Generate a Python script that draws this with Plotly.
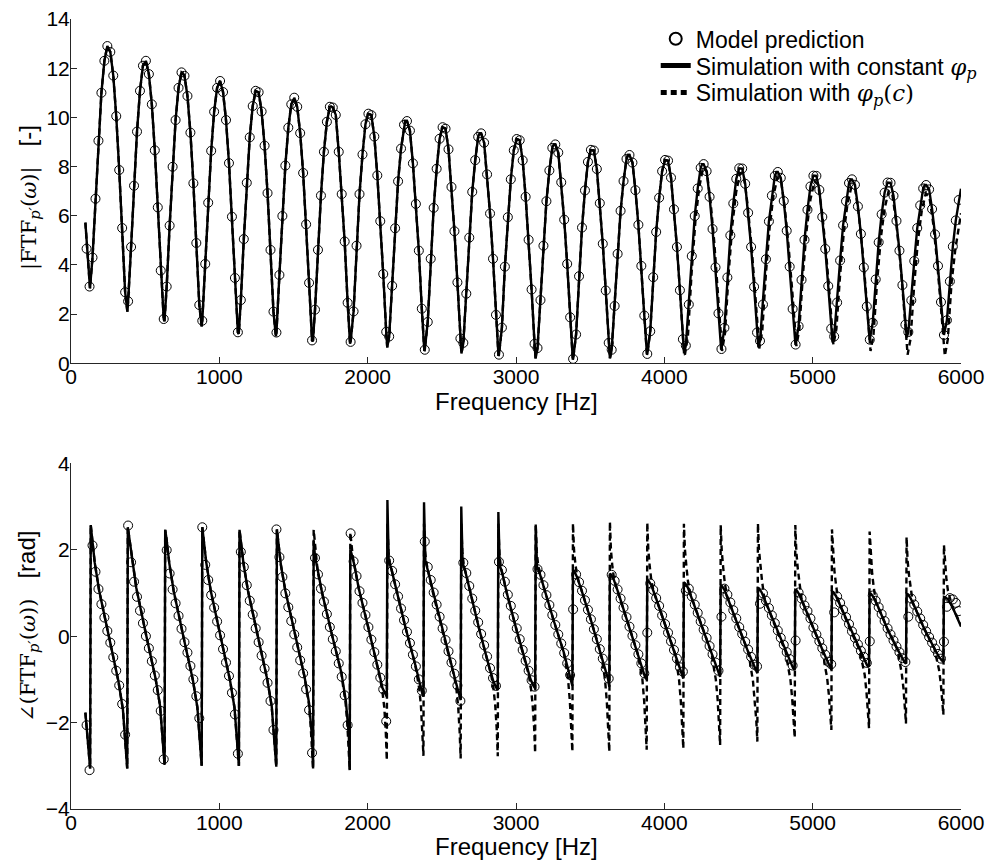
import plotly.graph_objects as go

# ---------------- data ----------------
# model-prediction sampling frequencies [Hz]
FREQ_MODEL = [
    105, 125, 145, 165, 185, 205, 225, 245, 265, 285,
    305, 325, 345, 365, 385, 405, 425, 445, 465, 485,
    505, 525, 545, 565, 585, 605, 625, 645, 665, 685,
    705, 725, 745, 765, 785, 805, 825, 845, 865, 885,
    905, 925, 945, 965, 985, 1005, 1025, 1045, 1065, 1085,
    1105, 1125, 1145, 1165, 1185, 1205, 1225, 1245, 1265, 1285,
    1305, 1325, 1345, 1365, 1385, 1405, 1425, 1445, 1465, 1485,
    1505, 1525, 1545, 1565, 1585, 1605, 1625, 1645, 1665, 1685,
    1705, 1725, 1745, 1765, 1785, 1805, 1825, 1845, 1865, 1885,
    1905, 1925, 1945, 1965, 1985, 2005, 2025, 2045, 2065, 2085,
    2105, 2125, 2145, 2165, 2185, 2205, 2225, 2245, 2265, 2285,
    2305, 2325, 2345, 2365, 2385, 2405, 2425, 2445, 2465, 2485,
    2505, 2525, 2545, 2565, 2585, 2605, 2625, 2645, 2665, 2685,
    2705, 2725, 2745, 2765, 2785, 2805, 2825, 2845, 2865, 2885,
    2905, 2925, 2945, 2965, 2985, 3005, 3025, 3045, 3065, 3085,
    3105, 3125, 3145, 3165, 3185, 3205, 3225, 3245, 3265, 3285,
    3305, 3325, 3345, 3365, 3385, 3405, 3425, 3445, 3465, 3485,
    3505, 3525, 3545, 3565, 3585, 3605, 3625, 3645, 3665, 3685,
    3705, 3725, 3745, 3765, 3785, 3805, 3825, 3845, 3865, 3885,
    3905, 3925, 3945, 3965, 3985, 4005, 4025, 4045, 4065, 4085,
    4105, 4125, 4145, 4165, 4185, 4205, 4225, 4245, 4265, 4285,
    4305, 4325, 4345, 4365, 4385, 4405, 4425, 4445, 4465, 4485,
    4505, 4525, 4545, 4565, 4585, 4605, 4625, 4645, 4665, 4685,
    4705, 4725, 4745, 4765, 4785, 4805, 4825, 4845, 4865, 4885,
    4905, 4925, 4945, 4965, 4985, 5005, 5025, 5045, 5065, 5085,
    5105, 5125, 5145, 5165, 5185, 5205, 5225, 5245, 5265, 5285,
    5305, 5325, 5345, 5365, 5385, 5405, 5425, 5445, 5465, 5485,
    5505, 5525, 5545, 5565, 5585, 5605, 5625, 5645, 5665, 5685,
    5705, 5725, 5745, 5765, 5785, 5805, 5825, 5845, 5865, 5885,
    5905, 5925, 5945, 5965, 5985,
]

# |FTF| model prediction (circles)
MAG_MODEL = [
    4.66, 3.12,
    4.30, 6.69, 9.05, 11.0, 12.3, 12.9, 12.66, 11.7, 10.05, 7.86, 5.5, 2.89,
    2.52, 4.73, 7.22, 9.42, 11.08, 12.1, 12.3, 11.76, 10.53, 8.66, 6.34, 3.77, 1.80,
    3.12, 5.6, 7.99, 9.89, 11.2, 11.83, 11.69, 10.87, 9.38, 7.32, 4.89, 2.37,
    1.73, 4.04, 6.53, 8.64, 10.23, 11.2, 11.48, 11.03, 9.89, 8.14, 5.96, 3.47, 1.26,
    2.57, 5.05, 7.34, 9.19, 10.46, 11.08, 11.02, 10.24, 8.85, 6.92, 4.61, 2.1,
    1.25, 3.59, 5.99, 8.04, 9.58, 10.53, 10.8, 10.43, 9.36, 7.74, 5.65, 3.27, 0.93,
    2.18, 4.61, 6.82, 8.6, 9.82, 10.43, 10.4, 10.1, 8.60, 6.88, 4.95, 2.46,
    0.87, 2.11, 4.78, 6.88, 8.49, 9.72, 10.15, 10.09, 9.22, 7.64, 5.78, 3.63, 1.28,
    1.09, 3.15, 5.49, 7.40, 8.73, 9.70, 9.85, 9.46, 8.13, 6.48, 4.58, 2.22,
    0.55, 1.68, 4.25, 6.32, 7.91, 9.13, 9.6, 9.54, 8.70, 7.17, 5.37, 3.29, 1.01,
    0.83, 2.83, 5.11, 6.97, 8.26, 9.21, 9.35, 8.97, 7.68, 6.09, 4.25, 1.97,
    0.35, 1.45, 3.93, 5.94, 7.48, 8.66, 9.12, 9.07, 8.25, 6.77, 5.02, 3.00, 0.79,
    0.62, 2.57, 4.78, 6.59, 7.84, 8.76, 8.9, 8.57, 7.36, 5.84, 4.04, 1.87,
    0.18, 1.17, 3.54, 5.52, 7.03, 8.19, 8.68, 8.65, 7.90, 6.51, 4.86, 2.96, 0.83,
    0.55, 2.33, 4.45, 6.20, 7.41, 8.31, 8.47, 8.16, 7.04, 5.63, 3.96, 1.94,
    0.38, 1.30, 3.50, 5.34, 6.73, 7.81, 8.27, 8.24, 7.55, 6.26, 4.73, 2.97, 0.98,
    0.72, 2.39, 4.36, 5.99, 7.11, 7.95, 8.1, 7.81, 6.77, 5.46, 3.90, 2.03,
    0.58, 1.44, 3.49, 5.20, 6.50, 7.50, 7.93, 7.92, 7.30, 6.12, 4.73, 3.11, 1.25,
    0.91, 2.39, 4.23, 5.77, 6.82, 7.62, 7.78, 7.54, 6.60, 5.39, 3.93, 2.21,
    0.76, 1.51, 3.39, 5.02, 6.24, 7.19, 7.63, 7.62, 7.05, 5.95, 4.65, 3.14, 1.41,
    1.09, 2.47, 4.18, 5.61, 6.59, 7.33, 7.48, 7.26, 6.38, 5.26, 3.90, 2.31,
    0.96, 1.65, 3.41, 4.92, 6.06, 6.94, 7.35, 7.34, 6.81, 5.79, 4.58, 3.18, 1.57,
    1.27, 2.56, 4.16, 5.50, 6.42, 7.11, 7.25, 7.07, 6.27, 5.24, 3.96, 2.49,
    1.15, 1.75, 3.33, 4.75, 5.81, 6.64,
]

# phase of FTF, model prediction (circles) [rad]
PHASE_MODEL = [
    -2.06, -3.10,
    2.10, 1.49, 1.09, 0.74, 0.43, 0.12, -0.15, -0.49, -0.80, -1.14, -1.57, -2.28,
    2.56, 1.71, 1.26, 0.91, 0.59, 0.30, 0.0, -0.28, -0.58, -0.91, -1.25, -1.73, -2.85,
    1.99, 1.45, 1.08, 0.76, 0.47, 0.17, -0.14, -0.38, -0.69, -1.0, -1.39, -1.9,
    2.52, 1.65, 1.3, 0.95, 0.66, 0.34, 0.02, -0.30, -0.61, -0.92, -1.31, -1.81, -2.72,
    1.95, 1.60, 1.18, 0.82, 0.50, 0.18, -0.14, -0.45, -0.75, -1.08, -1.50, -2.17,
    2.47, 1.83, 1.37, 0.99, 0.67, 0.35, 0.04, -0.26, -0.56, -0.86, -1.23, -1.71, -2.70,
    1.81, 1.43, 1.10, 0.80, 0.51, 0.21, -0.07, -0.35, -0.63, -0.94, -1.37, -2.06,
    2.38, 1.73, 1.39, 1.04, 0.77, 0.49, 0.21, -0.08, -0.37, -0.66, -0.96, -1.23, -1.97,
    1.75, 1.51, 1.20, 0.92, 0.64, 0.37, 0.10, -0.16, -0.43, -0.70, -1.0, -1.26,
    2.19, 1.60, 1.30, 1.01, 0.73, 0.45, 0.18, -0.09, -0.35, -0.61, -0.87, -1.14, -1.5,
    1.70, 1.46, 1.16, 0.87, 0.59, 0.32, 0.05, -0.21, -0.47, -0.74, -0.97, -1.15,
    1.72, 1.53, 1.26, 0.96, 0.70, 0.44, 0.18, -0.07, -0.32, -0.57, -0.80, -1.02, -1.17,
    1.55, 1.42, 1.18, 0.95, 0.72, 0.49, 0.26, 0.04, -0.17, -0.39, -0.63, -0.90,
    0.62, 1.43, 1.25, 1.05, 0.83, 0.61, 0.39, 0.16, -0.07, -0.30, -0.52, -0.75, -0.98,
    1.42, 1.28, 1.08, 0.87, 0.66, 0.44, 0.22, 0.01, -0.21, -0.42, -0.63, -0.86,
    0.08, 1.22, 1.07, 0.88, 0.70, 0.48, 0.28, 0.08, -0.12, -0.32, -0.52, -0.72, -0.82,
    1.05, 1.10, 0.92, 0.73, 0.54, 0.34, 0.15, -0.04, -0.23, -0.42, -0.61, -0.80,
    0.45, 1.10, 0.96, 0.78, 0.60, 0.41, 0.21, 0.05, -0.13, -0.31, -0.48, -0.66, -0.70,
    0.75, 0.99, 0.82, 0.65, 0.48, 0.30, 0.13, -0.04, -0.20, -0.37, -0.53, -0.68,
    -0.10, 1.01, 0.87, 0.71, 0.58, 0.41, 0.20, 0.04, -0.12, -0.28, -0.43, -0.59, -0.65,
    0.55, 0.92, 0.77, 0.61, 0.44, 0.28, 0.11, -0.04, -0.19, -0.34, -0.48, -0.62,
    -0.12, 0.94, 0.82, 0.67, 0.51, 0.35, 0.18, 0.04, -0.10, -0.24, -0.37, -0.51, -0.60,
    0.45, 0.87, 0.73, 0.57, 0.41, 0.26, 0.11, -0.02, -0.15, -0.29, -0.41, -0.52,
    -0.13, 0.68, 0.88, 0.85, 0.77, 0.58,
]

# --- simulation, |FTF| : start/end, minima and maxima of the solid curve
MAG_SIM_START = (97, 5.72)
MAG_SIM_END = (6000, 7.1)
MAG_TROUGH_F = [128, 380, 630, 881, 1131, 1381, 1631, 1881, 2132, 2382, 2632, 2882,
                3132, 3383, 3633, 3883, 4133, 4383, 4634, 4884, 5134, 5384, 5634, 5885]
MAG_TROUGH = [3.05, 2.1, 1.7, 1.5, 1.2, 1.1, 0.9, 0.8, 0.65, 0.5, 0.4, 0.3,
              0.2, 0.15, 0.2, 0.35, 0.4, 0.55, 0.65, 0.75, 0.85, 0.95, 1.05, 1.15]
MAG_PEAK_F = [252, 502, 752, 1002, 1253, 1503, 1753, 2003, 2253, 2504, 2754, 3004,
              3254, 3504, 3755, 4005, 4255, 4505, 4756, 5006, 5256, 5506, 5756]
MAG_PEAK = [12.8, 12.25, 11.8, 11.45, 11.05, 10.75, 10.45, 10.15, 9.85, 9.6, 9.35, 9.12,
            8.9, 8.68, 8.47, 8.27, 8.1, 7.93, 7.78, 7.63, 7.48, 7.35, 7.25]

# --- simulation with phi_p(c), |FTF| where it departs from the solid curve (f > 4135 Hz)
DASH_SPLIT_MAG = 4136
DASH_MAG_F = [4139, 4159, 4184, 4209, 4234, 4261, 4286, 4311, 4336, 4361, 4379,
              4389, 4409, 4434, 4459, 4484, 4511, 4536, 4561, 4586, 4611, 4629,
              4640, 4660, 4685, 4710, 4735, 4762, 4787, 4812, 4837, 4862, 4880,
              4890, 4910, 4935, 4960, 4985, 5012, 5037, 5062, 5087, 5112, 5130,
              5140, 5160, 5185, 5210, 5235, 5262, 5287, 5312, 5337, 5362, 5380,
              5390, 5410, 5435, 5460, 5485, 5512, 5537, 5562, 5587, 5612, 5630,
              5640, 5660, 5685, 5710, 5735, 5762, 5787, 5812, 5837, 5862, 5880,
              5891, 5911, 5936, 5961, 5986, 6000]
DASH_MAG = [0.35, 1.11, 3.69, 5.75, 7.11, 7.95, 7.80, 6.61, 4.97, 2.96, 1.17,
            0.5, 1.23, 3.69, 5.65, 6.95, 7.75, 7.61, 6.46, 4.89, 2.96, 1.24,
            0.6, 1.30, 3.66, 5.53, 6.79, 7.55, 7.41, 6.32, 4.81, 2.96, 1.32,
            0.7, 1.37, 3.65, 5.46, 6.66, 7.4, 7.27, 6.20, 4.74, 2.94, 1.35,
            0.75, 1.40, 3.59, 5.33, 6.49, 7.2, 7.07, 5.99, 4.52, 2.71, 1.10,
            0.5, 1.15, 3.36, 5.12, 6.29, 7.0, 6.87, 5.80, 4.34, 2.54, 0.95,
            0.35, 1.0, 3.23, 5.0, 6.18, 6.9, 6.77, 5.71, 4.26, 2.48, 0.89,
            0.3, 0.97, 3.25, 4.6, 5.6, 6.1]

# --- simulation, phase: one sawtooth period per jump frequency
PH_SIM_START = (97, -1.77)
PH_SIM_END = (6000, 0.22)
PH_JUMP_F = [130, 380, 632, 882, 1133, 1385, 1633, 1880, 2130, 2377, 2628, 2878,
             3130, 3381, 3630, 3882, 4129, 4377, 4628, 4880, 5127, 5381, 5630, 5882]
PH_BOT = [-3.06, -3.06, -2.98, -3.0, -3.0, -3.02, -3.06, -3.1, -1.40, -1.40, -1.48, -1.25,
          -1.21, -1.15, -1.17, -1.0, -0.98, -0.94, -0.86, -0.78, -0.77, -0.71, -0.64, -0.59]
PH_TOP = [2.57, 2.52, 2.46, 2.52, 2.46, 2.47, 2.2, 2.0, 3.15, 3.10, 3.0, 2.87,
          2.55, 1.53, 1.45, 1.30, 1.24, 1.18, 1.11, 1.07, 1.03, 0.99, 0.98, 0.91]
# phase read at 12, 30, 60, 125, 190, 220, 240 Hz after each jump
PH_OFFSETS = [12, 30, 60, 125, 190, 220, 240]
PH_P12 = [2.25, 2.30, 2.25, 2.25, 2.22, 2.2, 1.85, 1.9, 1.75, 1.75, 1.7, 1.65,
          1.6, 1.5, 1.42, 1.28, 1.22, 1.16, 1.1, 1.06, 1.02, 0.98, 0.97, 0.9]
PH_P30 = [1.70, 1.75, 1.70, 1.70, 1.68, 1.65, 1.5, 1.65, 1.55, 1.5, 1.5, 1.45,
          1.45, 1.37, 1.3, 1.18, 1.12, 1.06, 1.0, 0.96, 0.93, 0.9, 0.88, 0.85]
PH_P60 = [1.05, 1.12, 1.05, 1.05, 1.05, 1.05, 1.0, 1.1, 1.1, 1.05, 1.05, 1.0,
          1.1, 1.07, 1.0, 0.9, 0.85, 0.8, 0.75, 0.72, 0.7, 0.68, 0.66, 0.68]
PH_P125 = [-0.02, 0.05, 0.0, 0.0, 0.0, 0.02, 0.05, 0.2, 0.2, 0.15, 0.15, 0.15,
           0.35, 0.36, 0.3, 0.25, 0.22, 0.2, 0.18, 0.17, 0.16, 0.15, 0.15]
PH_P190 = [-1.05, -0.98, -1.02, -1.02, -1.0, -0.95, -0.85, -0.75, -0.65, -0.7, -0.7, -0.65,
           -0.35, -0.39, -0.4, -0.4, -0.4, -0.38, -0.36, -0.35, -0.33, -0.3, -0.28]
PH_P220 = [-1.70, -1.60, -1.65, -1.65, -1.62, -1.55, -1.5, -1.2, -1.1, -1.1, -1.05, -1.0,
           -0.72, -0.72, -0.72, -0.7, -0.68, -0.64, -0.6, -0.58, -0.55, -0.5, -0.47]
PH_P240 = [-2.50, -2.45, -2.45, -2.45, -2.4, -2.35, -2.3, -1.35, -1.35, -1.35, -1.2, -1.15,
           -1.0, -1.0, -0.95, -0.92, -0.88, -0.82, -0.74, -0.72, -0.68, -0.61, -0.56]

# --- simulation with phi_p(c), phase near each jump (jumps 6..23)
DASH_FIRST_JUMP = 6
DASH_SPLIT_PH = 1580
DASH_PRE_OFF = [-45, -30, -18, -8, -1]
DASH_POST_OFF = [3, 10, 20, 30, 45]
DASH_PRE45 = [-1.25, -1.18, -1.0, -0.9, -0.92, -0.9, -0.88, -0.65, -0.66, -0.68, -0.7, -0.7,
              -0.75, -0.72, -0.68, -0.62, -0.58, -0.52]
DASH_PRE30 = [-1.55, -1.5, -1.3, -1.2, -1.22, -1.2, -1.18, -1.0, -1.0, -1.0, -1.0, -1.0,
              -1.05, -1.0, -0.95, -0.9, -0.85, -0.78]
DASH_PRE18 = [-2.03, -1.98, -1.65, -1.6, -1.62, -1.6, -1.58, -1.5, -1.5, -1.5, -1.5, -1.45,
              -1.55, -1.45, -1.35, -1.3, -1.2, -1.1]
DASH_PRE8 = [-2.53, -2.5, -2.2, -2.15, -2.2, -2.15, -2.1, -2.05, -2.05, -2.05, -2.0, -1.95,
             -1.95, -1.9, -1.75, -1.7, -1.6, -1.45]
DASH_BOT = [-3.06, -3.1, -2.87, -2.77, -2.83, -2.78, -2.7, -2.67, -2.67, -2.63, -2.6, -2.52,
            -2.44, -2.35, -2.17, -2.13, -2.02, -1.82]
DASH_TOP = [2.46, 2.40, 2.6, 2.6, 2.6, 2.6, 2.6, 2.61, 2.65, 2.63, 2.6, 2.57,
            2.61, 2.57, 2.47, 2.42, 2.29, 2.11]
DASH_POST10 = [2.2, 2.1, 1.95, 1.95, 1.95, 1.9, 1.95, 2.0, 2.0, 2.0, 2.0, 1.97,
               2.0, 1.95, 1.9, 1.85, 1.75, 1.65]
DASH_POST20 = [1.75, 1.82, 1.7, 1.68, 1.65, 1.6, 1.62, 1.65, 1.6, 1.6, 1.6, 1.58,
               1.6, 1.55, 1.5, 1.45, 1.4, 1.3]
DASH_POST30 = [1.5, 1.65, 1.55, 1.5, 1.5, 1.45, 1.48, 1.42, 1.35, 1.3, 1.28, 1.25,
               1.3, 1.25, 1.2, 1.15, 1.1, 1.05]
DASH_POST45 = [1.25, 1.38, 1.33, 1.28, 1.28, 1.23, 1.28, 1.22, 1.15, 1.04, 0.99, 0.93,
               0.9, 0.86, 0.83, 0.79, 0.77, 0.85]
DASH_PH_END = (6000, 0.25)

assert len(FREQ_MODEL) == len(MAG_MODEL) == len(PHASE_MODEL)
assert len(DASH_MAG_F) == len(DASH_MAG)

# ---------------- assemble the curves ----------------
pts = [MAG_SIM_START, MAG_SIM_END]
pts += [(f, v) for f, v in zip(FREQ_MODEL, MAG_MODEL) if f >= 120]
pts += list(zip(MAG_TROUGH_F, MAG_TROUGH)) + list(zip(MAG_PEAK_F, MAG_PEAK))
pts.sort()
mag_sx = [p[0] for p in pts]
mag_sy = [p[1] for p in pts]

mag_dx = [x for x in mag_sx if x < DASH_SPLIT_MAG] + DASH_MAG_F
mag_dy = [y for x, y in zip(mag_sx, mag_sy) if x < DASH_SPLIT_MAG] + DASH_MAG

ph_sx, ph_sy = [PH_SIM_START[0]], [PH_SIM_START[1]]
n_jumps = len(PH_JUMP_F)
for n in range(n_jumps):
    T = PH_JUMP_F[n]
    ph_sx += [T - 1, T + 3]
    ph_sy += [PH_BOT[n], PH_TOP[n]]
    vals = [PH_P12[n], PH_P30[n], PH_P60[n]]
    if n < n_jumps - 1:
        vals += [PH_P125[n], PH_P190[n], PH_P220[n], PH_P240[n]]
    for off, v in zip(PH_OFFSETS, vals):
        ph_sx.append(T + off)
        ph_sy.append(v)
ph_sx.append(PH_SIM_END[0])
ph_sy.append(PH_SIM_END[1])

ph_dx = [x for x in ph_sx if x < DASH_SPLIT_PH]
ph_dy = [y for x, y in zip(ph_sx, ph_sy) if x < DASH_SPLIT_PH]
for i, n in enumerate(range(DASH_FIRST_JUMP, n_jumps)):
    T = PH_JUMP_F[n]
    pre = [DASH_PRE45[i], DASH_PRE30[i], DASH_PRE18[i], DASH_PRE8[i], DASH_BOT[i]]
    post = [DASH_TOP[i], DASH_POST10[i], DASH_POST20[i], DASH_POST30[i], DASH_POST45[i]]
    for off, v in zip(DASH_PRE_OFF + DASH_POST_OFF, pre + post):
        ph_dx.append(T + off)
        ph_dy.append(v)
    mids = [PH_P60[n]]
    if n < n_jumps - 1:
        mids += [PH_P125[n], PH_P190[n]]
    for off, v in zip([60, 125, 190], mids):
        ph_dx.append(T + off)
        ph_dy.append(v)
ph_dx.append(DASH_PH_END[0])
ph_dy.append(DASH_PH_END[1])

# ---------------- figure ----------------
BLACK = "black"
AX = "#262626"
FONT = "Liberation Sans"
SERIF = "DejaVu Serif"
LW = 2.4
DASH = "6px,4px"
LEG_FONT = 23

fig = go.Figure()

fig.add_trace(go.Scatter(x=mag_sx, y=mag_sy, mode="lines", xaxis="x", yaxis="y",
                         line=dict(color=BLACK, width=LW), legend="legend2",
                         name=f'Simulation with constant <span style="font-family:{SERIF}"><i>φ</i><sub><i>p</i></sub></span>'))
fig.add_trace(go.Scatter(x=mag_dx, y=mag_dy, mode="lines", xaxis="x", yaxis="y",
                         line=dict(color=BLACK, width=LW, dash=DASH), legend="legend3",
                         name=f'Simulation with <span style="font-family:{SERIF}"><i>φ</i><sub><i>p</i></sub>(<i>c</i>)</span>'))
fig.add_trace(go.Scatter(x=FREQ_MODEL, y=MAG_MODEL, mode="markers", xaxis="x", yaxis="y",
                         marker=dict(symbol="circle-open", size=9, color=BLACK,
                                     line=dict(width=1, color=BLACK)),
                         legend="legend", name="Model prediction"))

fig.add_trace(go.Scatter(x=ph_sx, y=ph_sy, mode="lines", xaxis="x2", yaxis="y2",
                         line=dict(color=BLACK, width=LW), showlegend=False))
fig.add_trace(go.Scatter(x=ph_dx, y=ph_dy, mode="lines", xaxis="x2", yaxis="y2",
                         line=dict(color=BLACK, width=LW, dash=DASH), showlegend=False))
fig.add_trace(go.Scatter(x=FREQ_MODEL, y=PHASE_MODEL, mode="markers", xaxis="x2", yaxis="y2",
                         marker=dict(symbol="circle-open", size=9, color=BLACK,
                                     line=dict(width=1, color=BLACK)),
                         showlegend=False))

axis_common = dict(showline=True, linecolor=AX, linewidth=1, ticks="inside", ticklen=6,
                   tickcolor=AX, tickwidth=1, showgrid=False, zeroline=False, mirror=False,
                   tickfont=dict(family=FONT, size=21, color=BLACK))

TOP_DOM = [0.5642, 1.0]
BOT_DOM = [0.0, 0.4376]
XT = [0, 1000, 2000, 3000, 4000, 5000, 6000]


def leg(y):
    return dict(x=0.657, y=y, xanchor="left", yanchor="middle",
                font=dict(family=FONT, size=LEG_FONT, color=BLACK),
                bgcolor="rgba(0,0,0,0)", itemsizing="constant")


fig.update_layout(
    width=990, height=863,
    margin=dict(l=71, r=29, t=19, b=54, autoexpand=False),
    paper_bgcolor="white", plot_bgcolor="white",
    font=dict(family=FONT, color=BLACK),
    xaxis=dict(domain=[0, 1], range=[0, 6000], tickvals=XT, anchor="y",
               ticklabelstandoff=-5, **axis_common),
    yaxis=dict(domain=TOP_DOM, range=[0, 14], tickvals=[0, 2, 4, 6, 8, 10, 12, 14],
               anchor="x", ticklabelstandoff=-4, **axis_common),
    xaxis2=dict(domain=[0, 1], range=[0, 6000], tickvals=XT, anchor="y2",
                ticklabelstandoff=-5, **axis_common),
    yaxis2=dict(domain=BOT_DOM, range=[-4, 4], tickvals=[-4, -2, 0, 2, 4],
                anchor="x2", ticklabelstandoff=-4, **axis_common),
    showlegend=True,
    legend=leg(0.975),
    legend2=leg(0.941),
    legend3=leg(0.907),
)

NB = "\u00a0"
annotations = [
    dict(text="Frequency [Hz]", x=0.5, y=0.5155, xref="paper", yref="paper",
         xanchor="center", yanchor="middle", showarrow=False,
         font=dict(family=FONT, size=24, color=BLACK)),
    dict(text="Frequency [Hz]", x=0.5, y=-0.0475, xref="paper", yref="paper",
         xanchor="center", yanchor="middle", showarrow=False,
         font=dict(family=FONT, size=24, color=BLACK)),
    dict(text=f'<span style="font-family:{SERIF};font-size:21px">|FTF<sub><i>p′</i></sub>(<i>ω</i>)|</span>{NB*3}[-]',
         x=-0.0483, y=0.7734, xref="paper", yref="paper", textangle=-90,
         xanchor="center", yanchor="middle", showarrow=False,
         font=dict(family=FONT, size=24, color=BLACK)),
    dict(text=f'<span style="font-family:{SERIF};font-size:21px">∠(FTF<sub><i>p′</i></sub>(<i>ω</i>))</span>{NB*3}[rad]',
         x=-0.0483, y=0.2304, xref="paper", yref="paper", textangle=-90,
         xanchor="center", yanchor="middle", showarrow=False,
         font=dict(family=FONT, size=24, color=BLACK)),
]
fig.update_layout(annotations=annotations)

fig.write_html("out.html")
